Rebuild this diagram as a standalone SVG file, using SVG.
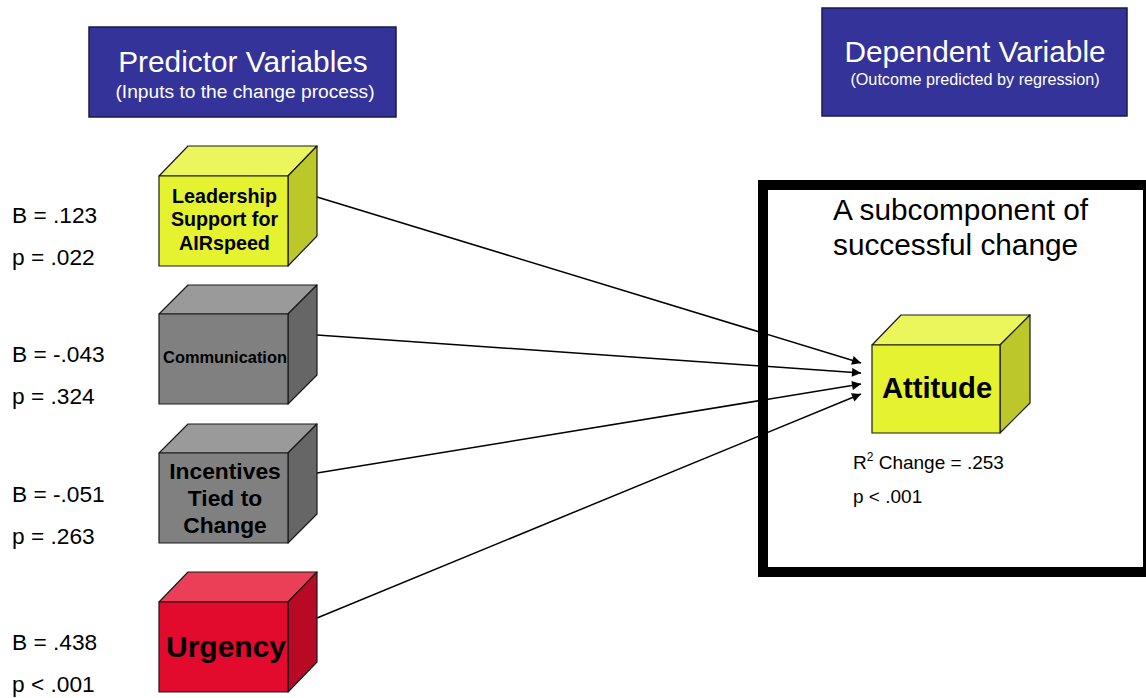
<svg xmlns="http://www.w3.org/2000/svg" width="1146" height="698" viewBox="0 0 1146 698">
<defs>
<style>
text{font-family:"Liberation Sans",Arial,sans-serif;}
.hdr{fill:#333399;stroke:#1a1a4d;stroke-width:1.5;}
.ht{fill:#ffffff;text-anchor:middle;}
.edge{stroke:#000;stroke-width:1.5;fill:none;}
.cube polygon{stroke:#1a1a1a;stroke-width:1.2;stroke-linejoin:round;}
.yf{fill:#E5F230;} .yt{fill:#EBF55C;} .ys{fill:#BCC82A;}
.gf{fill:#808080;} .gt{fill:#9A9A9A;} .gs{fill:#666666;}
.rf{fill:#E30B2D;} .rt{fill:#EB3F58;} .rs{fill:#B90A25;}
.cl{font-weight:bold;fill:#000;text-anchor:middle;}
.lbl{font-size:22.7px;fill:#000;}
</style>
<marker id="ah" viewBox="0 0 10 10" refX="10" refY="5" markerWidth="11" markerHeight="9" markerUnits="userSpaceOnUse" orient="auto">
<path d="M0,0 L10,5 L0,10 z" fill="#000"/>
</marker>
</defs>

<g id="header-predictor">
<rect class="hdr" x="89" y="27" width="307" height="90"/>
<text class="ht" x="243" y="72" font-size="29.8">Predictor Variables</text>
<text class="ht" x="245" y="98" font-size="19.2">(Inputs to the change process)</text>
</g>

<g id="header-dependent">
<rect class="hdr" x="822" y="8" width="305" height="108"/>
<text class="ht" x="975" y="62" font-size="29.8">Dependent Variable</text>
<text class="ht" x="975" y="85" font-size="16.2">(Outcome predicted by regression)</text>
</g>

<g id="outcome-frame">
<rect x="763" y="185" width="385" height="387" fill="#fff" stroke="#000" stroke-width="10"/>
<text x="833" y="220" font-size="29.8">A subcomponent of</text>
<text x="833" y="255" font-size="29.8">successful change</text>
</g>

<g id="connectors">
<line class="edge" x1="317" y1="197" x2="861" y2="363" marker-end="url(#ah)"/>
<line class="edge" x1="317" y1="335" x2="861" y2="373" marker-end="url(#ah)"/>
<line class="edge" x1="317" y1="473" x2="861" y2="384" marker-end="url(#ah)"/>
<line class="edge" x1="317" y1="618" x2="861" y2="394" marker-end="url(#ah)"/>
</g>

<g id="node-leadership" class="cube">
<polygon class="yt" points="159,176 188,146 317,146 288,176"/>
<polygon class="ys" points="288,176 317,146 317,236 288,266"/>
<polygon class="yf" points="159,176 288,176 288,266 159,266"/>
<text class="cl" x="224.5" y="203" font-size="19.7">Leadership</text>
<text class="cl" x="224.5" y="226" font-size="19.7">Support for</text>
<text class="cl" x="224.5" y="250" font-size="19.7">AIRspeed</text>
</g>

<g id="node-communication" class="cube">
<polygon class="gt" points="159,314 188,285 317,285 288,314"/>
<polygon class="gs" points="288,314 317,285 317,375 288,404"/>
<polygon class="gf" points="159,314 288,314 288,404 159,404"/>
<text class="cl" x="225" y="363" font-size="16.4">Communication</text>
</g>

<g id="node-incentives" class="cube">
<polygon class="gt" points="159,453 188,424 317,424 288,453"/>
<polygon class="gs" points="288,453 317,424 317,514 288,543"/>
<polygon class="gf" points="159,453 288,453 288,543 159,543"/>
<text class="cl" x="225" y="479" font-size="22.8">Incentives</text>
<text class="cl" x="225" y="506" font-size="22.8">Tied to</text>
<text class="cl" x="225" y="533" font-size="22.8">Change</text>
</g>

<g id="node-urgency" class="cube">
<polygon class="rt" points="159,602 188,572 317,572 288,602"/>
<polygon class="rs" points="288,602 317,572 317,662 288,692"/>
<polygon class="rf" points="159,602 288,602 288,692 159,692"/>
<text class="cl" x="226" y="657" font-size="30">Urgency</text>
</g>

<g id="node-attitude" class="cube">
<polygon class="yt" points="872,345 901,315 1030,315 1000,345"/>
<polygon class="ys" points="1000,345 1030,315 1030,403 1000,433"/>
<polygon class="yf" points="872,345 1000,345 1000,433 872,433"/>
<text class="cl" x="937" y="398" font-size="29.2">Attitude</text>
</g>

<g id="stats">
<text class="lbl" x="12" y="223">B = .123</text>
<text class="lbl" x="12" y="265">p = .022</text>
<text class="lbl" x="12" y="362">B = -.043</text>
<text class="lbl" x="12" y="404">p = .324</text>
<text class="lbl" x="12" y="502">B = -.051</text>
<text class="lbl" x="12" y="544">p = .263</text>
<text class="lbl" x="12" y="650">B = .438</text>
<text class="lbl" x="12" y="692">p &lt; .001</text>
<text x="853" y="469" font-size="19">R<tspan font-size="12" dy="-8">2</tspan><tspan dy="8"> Change = .253</tspan></text>
<text x="853" y="503" font-size="19">p &lt; .001</text>
</g>
</svg>
